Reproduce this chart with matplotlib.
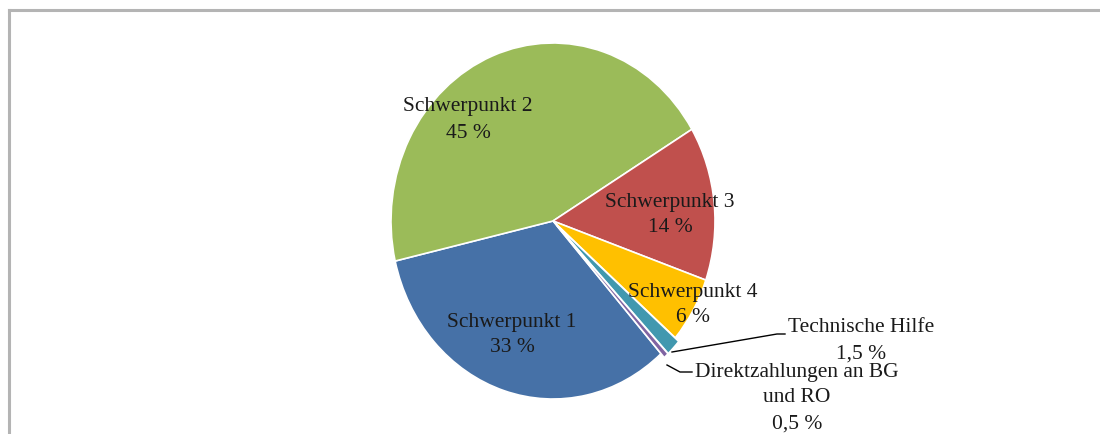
import matplotlib
matplotlib.use("Agg")
import matplotlib.pyplot as plt
from matplotlib.lines import Line2D

categories = ["Schwerpunkt 1", "Schwerpunkt 2", "Schwerpunkt 3", "Schwerpunkt 4",
              "Technische Hilfe", "Direktzahlungen an BG\nund RO"]
values = [33, 45, 14, 6, 1.5, 0.5]
value_labels = ["33 %", "45 %", "14 %", "6 %", "1,5 %", "0,5 %"]
colors = ["#4671A7", "#9BBB59", "#C0504D", "#FFC000", "#4198AF", "#8064A2"]
explode = [0, 0, 0, 0, 0.03, 0.03]

W, H = 1100, 434
fig = plt.figure(figsize=(W / 100, H / 100), dpi=100)
fig.patch.set_facecolor("white")

def fx(x):
    return x / W

def fy(y):
    return 1 - y / H

# pie axes (slightly elliptical as in the reference)
cx, cy, rx, ry = 553, 221, 162, 178
ax = fig.add_axes([fx(cx - rx), fy(cy + ry), 2 * rx / W, 2 * ry / H])
ax.pie(values, colors=colors, startangle=-48.2, counterclock=False,
       explode=explode, radius=1.0,
       wedgeprops=dict(edgecolor="white", linewidth=1.2))
ax.set_aspect("auto")
ax.set_xlim(-1.0, 1.0)
ax.set_ylim(-1.0, 1.0)
ax.axis("off")

# frame lines (top and left visible)
fig.add_artist(Line2D([fx(9), fx(1100)], [fy(9.5), fy(9.5)], color="#b4b4b4", lw=2.2))
fig.add_artist(Line2D([fx(9), fx(9)], [fy(9.5), fy(434)], color="#b4b4b4", lw=2.2))

font = dict(family="Liberation Serif", fontsize=15.5, color="#1a1a1a",
            ha="center", va="center", linespacing=1.5)

label_pos = [(512, 335), (468, 120), (670, 215), (693, 305), (861, 341), (797, 398)]
for (x, y), cat, vl in zip(label_pos, categories, value_labels):
    fig.text(fx(x), fy(y), cat + "\n" + vl, **font)

# leader lines
fig.add_artist(Line2D([fx(672), fx(777), fx(785)], [fy(352), fy(334), fy(334)],
                      color="black", lw=1.0))
fig.add_artist(Line2D([fx(667), fx(680), fx(692)], [fy(365), fy(372), fy(372)],
                      color="black", lw=1.0))

fig.savefig("out.png", dpi=100, facecolor="white")
